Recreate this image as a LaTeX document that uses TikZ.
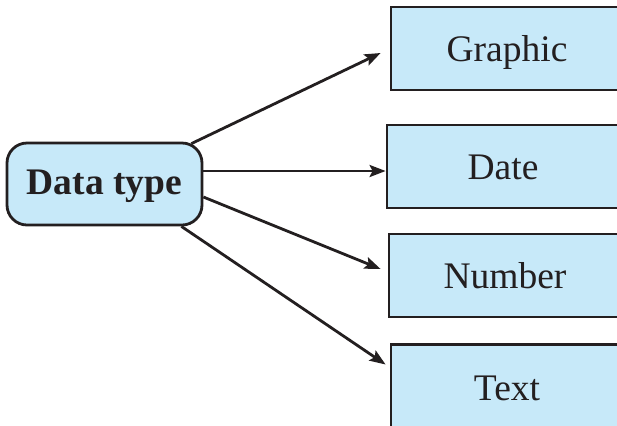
\documentclass[tikz,border=0pt]{standalone}
\usepackage{fontspec}
\setmainfont{Liberation Serif}
\usepackage{tikz}
\usetikzlibrary{arrows.meta,positioning,calc}
\definecolor{boxblue}{RGB}{199,233,249}
\definecolor{ink}{RGB}{35,31,32}

\begin{document}
\begin{tikzpicture}[x=0.5pt, y=-0.5pt,
  n/.style={draw=ink, fill=boxblue, line width=1.4pt, inner sep=0pt, text=ink,
    text height=17pt, text depth=4pt,
    minimum width=116pt, minimum height=41.5pt, font=\fontsize{18.75}{22}\selectfont},
  src/.style={n, rounded corners=10pt, minimum width=97.5pt, minimum height=41pt,
    text height=15pt, text depth=5pt, font=\fontsize{18.75}{22}\selectfont\bfseries},
  arr/.style={-{Stealth[length=8pt,width=6pt,inset=1.5pt]}, line width=1.4pt, draw=ink}
]
\useasboundingbox (0,0) rectangle (617,425);
\clip (0,0) rectangle (617,425);

\node[src] (dt) at (104.5,184) {Data type};
\node[n] (graphic) at (507,48.5) {Graphic};
\node[n] (date) at (503,166.5) {Date};
\node[n, below=11.6pt of date, xshift=1pt] (number) {Number};
\node[n, below=11.6pt of number, xshift=1pt, minimum height=43pt, yshift=-0.75pt] (text) {Text};

\draw[arr] ($(dt.north east)+(-12,2)$) -- ($(graphic.west)+(-9,4.5)$);
\draw[arr] ($(dt.east)+(0,-13)$) -- ($(date.west)+(0,4.5)$);
\draw[arr] ($(dt.east)+(0,13)$) -- ($(number.west)+(-7,-6.5)$);
\draw[arr] ($(dt.south east)+(-22,0)$) -- ($(text.west)+(-4,-23)$);
\end{tikzpicture}
\end{document}
